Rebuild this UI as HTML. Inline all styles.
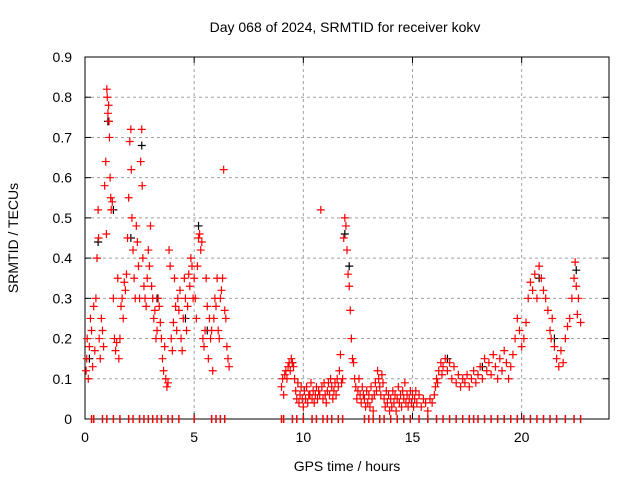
<!DOCTYPE html>
<html><head><meta charset="utf-8"><style>
body{margin:0;background:#fff;}
svg text{font-family:"Liberation Sans",sans-serif;font-size:14px;fill:#000;}
</style></head><body>
<svg id="chart" width="640" height="480" xmlns="http://www.w3.org/2000/svg">
<text x="345" y="32" text-anchor="middle">Day 068 of 2024, SRMTID for receiver kokv</text>
<text x="347" y="471" text-anchor="middle">GPS time / hours</text>
<text transform="translate(18,238) rotate(-90)" text-anchor="middle">SRMTID / TECUs</text>
<g id="grid"></g><g id="axes"></g><g id="marks"></g>
</svg>
<script>
const xTicks=[0,5,10,15,20];
const yTicks=[0,0.1,0.2,0.3,0.4,0.5,0.6,0.7,0.8,0.9];
const yTickLabels=["0","0.1","0.2","0.3","0.4","0.5","0.6","0.7","0.8","0.9"];
const redTimes=[0.05,0.08,0.1,0.15,0.2,0.25,0.3,0.35,0.4,0.45,0.5,0.55,0.6,0.62,0.65,0.7,0.75,0.8,0.85,0.9,0.95,0.98,1.0,1.02,1.05,1.08,1.1,1.12,1.15,1.18,1.2,1.25,1.3,1.35,1.4,1.45,1.5,1.55,1.6,1.65,1.7,1.75,1.8,1.85,1.9,1.95,2.0,2.05,2.1,2.12,2.15,2.2,2.25,2.3,2.35,2.4,2.45,2.5,2.55,2.6,2.62,2.65,2.7,2.75,2.8,2.85,2.9,2.95,3.0,3.05,3.1,3.15,3.2,3.25,3.3,3.35,3.4,3.45,3.5,3.55,3.6,3.65,3.7,3.75,3.8,3.85,3.9,3.95,4.0,4.05,4.1,4.15,4.2,4.25,4.3,4.35,4.4,4.45,4.5,4.55,4.6,4.65,4.7,4.75,4.8,4.85,4.9,4.95,5.0,5.05,5.1,5.15,5.2,5.25,5.3,5.35,5.4,5.45,5.5,5.55,5.6,5.65,5.7,5.75,5.8,5.85,5.9,5.95,6.0,6.05,6.1,6.15,6.2,6.25,6.3,6.35,6.4,6.45,6.5,6.55,6.6,
9.0,9.05,9.1,9.15,9.2,9.25,9.3,9.35,9.4,9.45,9.5,9.55,9.6,9.65,9.7,9.75,9.8,9.85,9.9,9.95,10.0,10.05,10.1,10.15,10.2,10.25,10.3,10.35,10.4,10.45,10.5,10.55,10.6,10.65,10.7,10.75,10.8,10.85,10.9,10.95,11.0,11.05,11.1,11.15,11.2,11.25,11.3,11.35,11.4,11.45,11.5,11.55,11.6,11.65,11.7,11.75,11.8,11.85,11.9,11.95,12.0,12.05,12.1,12.15,12.2,12.25,12.3,12.35,12.4,12.45,12.5,12.55,12.6,12.65,12.7,12.75,12.8,12.85,12.9,12.95,13.0,13.05,13.1,13.15,13.2,13.25,13.3,13.35,13.4,13.45,13.5,13.55,13.6,13.65,13.7,13.75,13.8,13.85,13.9,13.95,14.0,14.05,14.1,14.15,14.2,14.25,14.3,14.35,14.4,14.45,14.5,14.55,14.6,14.65,14.7,14.75,14.8,14.85,14.9,14.95,15.0,15.05,15.1,15.15,15.2,15.3,15.4,15.5,15.6,15.7,15.8,15.9,16.0,16.05,16.1,16.15,16.2,16.3,16.35,16.4,16.5,16.6,16.7,16.8,16.9,17.0,17.1,17.2,17.3,17.4,17.5,17.6,17.7,17.8,17.9,18.0,18.1,18.2,18.3,18.4,18.5,18.6,18.7,18.8,18.9,19.0,19.1,19.2,19.3,19.4,19.5,19.6,19.7,19.8,19.9,20.0,20.1,20.2,20.3,20.4,20.5,20.6,20.7,20.8,20.9,21.0,21.1,21.2,21.3,21.35,21.4,21.5,21.6,21.7,21.8,21.9,22.0,22.1,22.2,22.3,22.4,22.45,22.5,22.55,22.6,22.7];
const redValues=[.12,.15,.2,.1,.18,.25,.22,.13,.28,.17,.3,.4,.52,.45,.2,.15,.25,.22,.18,.58,.64,.46,.82,.8,.76,.78,.74,.7,.6,.55,.52,.54,.3,.2,.17,.19,.35,.15,.2,.28,.3,.25,.34,.32,.36,.45,.55,.69,.72,.62,.5,.42,.35,.3,.48,.44,.38,.3,.64,.72,.58,.4,.33,.3,.28,.35,.42,.38,.48,.33,.3,.25,.27,.2,.22,.3,.28,.24,.2,.15,.12,.18,.1,.08,.09,.42,.38,.2,.17,.24,.35,.28,.22,.3,.27,.32,.2,.17,.25,.35,.3,.22,.28,.36,.33,.4,.38,.3,.35,.3,.25,.38,.45,.46,.42,.44,.2,.18,.22,.35,.28,.15,.25,.2,.22,.12,.25,.3,.28,.35,.22,.2,.3,.32,.35,.62,.27,.25,.18,.15,.13,
.08,.1,.06,.11,.12,.1,.13,.14,.12,.15,.14,.13,.1,.07,.05,.09,.04,.06,.08,.05,.03,.07,.05,.08,.04,.06,.06,.09,.05,.07,.04,.06,.08,.05,.07,.06,.52,.08,.05,.09,.06,.04,.07,.09,.06,.1,.08,.05,.07,.09,.06,.1,.08,.12,.16,.09,.1,.45,.5,.48,.42,.36,.33,.27,.2,.15,.14,.1,.08,.05,.07,.1,.06,.04,.08,.06,.05,.03,.07,.04,.06,.03,.08,.05,.02,.06,.09,.07,.12,.1,.08,.06,.11,.09,.05,.03,.07,.04,.06,.02,.05,.03,.07,.04,.06,.02,.05,.08,.04,.06,.03,.07,.05,.09,.04,.06,.03,.05,.07,.04,.06,.03,.05,.07,.04,.06,.03,.05,.04,.02,.05,.04,.06,.08,.1,.09,.12,.14,.11,.13,.15,.12,.14,.1,.13,.09,.11,.08,.1,.09,.11,.08,.1,.12,.09,.11,.13,.1,.15,.12,.14,.11,.16,.13,.1,.15,.12,.17,.14,.1,.13,.16,.2,.25,.22,.18,.2,.24,.3,.34,.32,.36,.3,.38,.35,.32,.3,.27,.22,.2,.25,.18,.15,.13,.17,.14,.2,.23,.25,.3,.35,.39,.33,.26,.3,.24];
const blackTimes=[0.2,0.6,1.05,1.3,2.1,2.6,3.3,4.6,5.2,5.6,9.5,11.9,12.1,16.6,18.2,20.8,21.5,22.5];
const blackValues=[.15,.44,.74,.52,.45,.68,.3,.25,.48,.22,.14,.46,.38,.15,.13,.35,.2,.37];
const zeroTimes=[0.3,0.4,0.8,1.0,1.3,1.6,2.0,2.2,2.5,2.7,2.9,3.1,3.3,3.5,3.8,4.0,4.3,5.0,5.8,6.0,6.2,6.4,9.0,9.1,9.5,9.7,10.0,10.4,10.6,10.9,11.1,11.3,11.6,11.8,12.8,13.0,13.2,13.5,13.7,14.0,14.3,14.6,14.9,15.3,15.7,16.1,16.4,16.7,17.0,17.3,17.6,17.8,18.0,18.3,18.6,18.9,19.2,19.5,19.8,20.1,20.4,20.7,21.0,21.3,21.6,22.0,22.4,22.7];

const L=85,R=609,T=57,B=419,XMAX=24,YMAX=0.9;
const xs=t=>L+(R-L)*t/XMAX;
const ys=v=>B-(B-T)*v/YMAX;
const NS="http://www.w3.org/2000/svg";
function mk(tag,attrs,parent){const e=document.createElementNS(NS,tag);for(const k in attrs)e.setAttribute(k,attrs[k]);parent.appendChild(e);return e;}
const grid=document.getElementById('grid'),axes=document.getElementById('axes'),marks=document.getElementById('marks');
xTicks.forEach(t=>{
  const x=xs(t);
  if(t>0){const g=mk('line',{x1:x,y1:T,x2:x,y2:B,stroke:'#a0a0a0','stroke-dasharray':'3,3'},grid);
  
  }
  mk('line',{x1:x,y1:B,x2:x,y2:B-6,stroke:'#000'},axes);
  mk('line',{x1:x,y1:T,x2:x,y2:T+6,stroke:'#000'},axes);
  const lb=mk('text',{x:x,y:B+23,'text-anchor':'middle'},axes);lb.textContent=t;
  
  
});
yTicks.forEach((v,i)=>{
  const y=ys(v);
  if(v>0&&v<YMAX){const g=mk('line',{x1:L,y1:y,x2:R,y2:y,stroke:'#a0a0a0','stroke-dasharray':'3,3'},grid);
  
  }
  mk('line',{x1:L,y1:y,x2:L+6,y2:y,stroke:'#000'},axes);
  mk('line',{x1:R,y1:y,x2:R-6,y2:y,stroke:'#000'},axes);
  const lb=mk('text',{x:L-13,y:y+5,'text-anchor':'end'},axes);lb.textContent=yTickLabels[i];
  
  
});
const fr=mk('rect',{x:L,y:T,width:R-L,height:B-T,fill:'none',stroke:'#000'},axes);


function plus(x,y,c,name){
  const p=mk('path',{d:`M${x-4},${y}h8M${x},${y-4}v8`,stroke:c,'stroke-width':1.2,fill:'none'},marks);
  
  
}
blackTimes.forEach((t,i)=>plus(xs(t),ys(blackValues[i]),'#000','black-point'));
redTimes.forEach((t,i)=>plus(xs(t),ys(redValues[i]),'#ff0000','red-point'));
zeroTimes.forEach(t=>{
  const p=mk('line',{x1:xs(t),y1:B-4,x2:xs(t),y2:B+4,stroke:'#ff0000','stroke-width':1.5},marks);
  
  
});
</script>
</body></html>
